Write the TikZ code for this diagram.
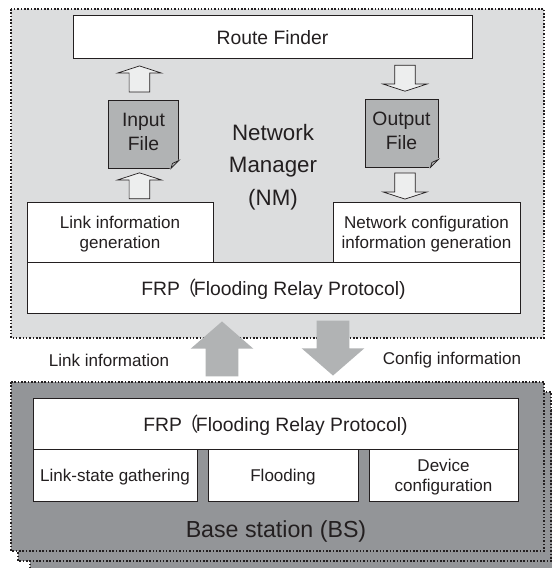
\documentclass[tikz,border=0pt]{standalone}
\usepackage{fontspec}
\usepackage{xcolor}
\usepackage{tikz}
\usetikzlibrary{calc, shapes.arrows}
\setmainfont{Liberation Sans}
\newfontfamily\cjkparen{Noto Sans CJK JP}
\definecolor{nmgrey}{HTML}{DCDDDE}
\definecolor{bsgrey}{HTML}{939598}
\definecolor{filegrey}{HTML}{B1B3B4}
\definecolor{biggrey}{HTML}{B1B3B4}
\definecolor{smallgrey}{HTML}{EDEEEE}
\definecolor{inkgrey}{HTML}{231F20}
\newcommand{\frpname}{FRP\hspace{-0.14em}{\cjkparen （}\hspace{-0.14em}Flooding Relay Protocol)}
\tikzset{
    every node/.style={text=inkgrey, align=center, inner sep=0pt},
    areabox/.style={draw=inkgrey, densely dotted, line width=0.9pt},
    whitebox/.style={rectangle, draw=inkgrey, fill=white, line width=0.5pt, text depth=0pt, font=\fontsize{9.7}{11.4}\selectfont},
    framebox/.style={whitebox, font=\fontsize{11}{13}\selectfont},
    filebox/.style={rectangle, draw=inkgrey, fill=filegrey, line width=0.5pt, text depth=2.3pt, minimum width=1.4cm, minimum height=1.36cm, font=\fontsize{11}{13.7}\selectfont},
    smallarrow/.style={single arrow, draw=inkgrey, fill=smallgrey, line width=0.4pt, inner sep=0.2cm, minimum width=0.86cm, minimum height=0.52cm, single arrow tip angle=144, single arrow head extend=0.23cm},
    bigarrow/.style={single arrow, fill=biggrey, inner sep=0.32cm, minimum width=1.24cm, minimum height=1.1cm, single arrow tip angle=98, single arrow head extend=0.3cm},
}
\newcommand{\filefold}[1]{
    \draw [draw=nmgrey, fill=nmgrey, line width=0.8pt] (#1.south east) -- ($(#1.south east) + (-0.16,0)$) -- ($(#1.south east) + (0,0.16)$) -- cycle;
    \draw [draw=inkgrey, fill=filegrey, line width=0.4pt] ($(#1.south east) + (-0.16,0)$) -- ($(#1.south east) + (0,0.16)$) -- ($(#1.south east) + (-0.13,0.1)$) -- cycle;
}
\begin{document}
\begin{tikzpicture}
        \useasboundingbox (0,0) rectangle (11.04,-11.36);
        \clip (0,0) rectangle (11.04,-11.36);

        %% Areas
        \fill [white] (0,0) rectangle (11.04,-11.36);
        \draw [areabox, fill=bsgrey] (0.6,-8.2) rectangle (11.1,-11.6);
        \draw [areabox, fill=bsgrey] (0.36,-7.84) rectangle (11.02,-11.22);
        \draw [areabox, fill=bsgrey] (0.22,-7.64) rectangle (10.88,-11.02);
        \draw [areabox, fill=nmgrey] (0.22,-0.18) rectangle (10.88,-6.76);

        %% Network Manager
        \node (routefinder) [framebox, minimum width=7.98cm, minimum height=0.85cm] at (5.45,-0.74) {Route Finder};
        \node (linkgen) [whitebox, minimum width=3.72cm, minimum height=1.2cm] at (2.4,-4.64) {Link information\\generation};
        \node (configgen) [whitebox, minimum width=3.74cm, minimum height=1.19cm] at (8.53,-4.65) {Network configuration\\information generation};
        \node (nmfrp) [framebox, minimum width=9.86cm, minimum height=1.02cm] at (5.47,-5.75) {\frpname};
        \node (nmlabel) [font=\fontsize{12.7}{18.5}\selectfont] at (5.46,-3.34) {Network\\Manager\\(NM)};

        %% Files
        \node (inputfile) [filebox] at (2.87,-2.68) {Input\\File};
        \node (outputfile) [filebox, minimum width=1.46cm] at (8.03,-2.66) {Output\\File};
        \filefold{inputfile}
        \filefold{outputfile}

        %% Small arrows
        \node (inputup) [smallarrow, shape border rotate=90, anchor=tip] at ($(inputfile.north) + (-0.08,0.68)$) {};
        \node (linkup) [smallarrow, shape border rotate=90, anchor=tip] at ($(inputfile.south) + (-0.08,-0.08)$) {};
        \node (outputdown) [smallarrow, shape border rotate=270, anchor=tip] at ($(outputfile.north) + (0.07,0.14)$) {};
        \node (configdown) [smallarrow, shape border rotate=270, anchor=tip] at ($(outputfile.south) + (0.07,-0.64)$) {};

        %% Big arrows
        \node (linkarrow) [bigarrow, shape border rotate=90, anchor=tip] at (4.44,-6.42) {};
        \node (configarrow) [bigarrow, shape border rotate=270, anchor=tip] at (6.66,-7.52) {};
        \node (linklabel) [font=\fontsize{9.7}{12}\selectfont] at (2.18,-7.2) {Link information};
        \node (configlabel) [font=\fontsize{9.7}{12}\selectfont] at (9.04,-7.2) {Config information};

        %% Base station
        \node (bsfrp) [framebox, minimum width=9.7cm, minimum height=1.02cm] at (5.51,-8.47) {\frpname};
        \node (gathering) [whitebox, minimum width=3.28cm, minimum height=1.04cm] at (2.3,-9.5) {Link-state gathering};
        \node (flooding) [whitebox, minimum width=3cm, minimum height=1.04cm] at (5.66,-9.5) {Flooding};
        \node (deviceconf) [whitebox, minimum width=2.98cm, minimum height=1.04cm] at (8.87,-9.5) {Device\\configuration};
        \node (bslabel) [font=\fontsize{13.2}{15}\selectfont] at (5.52,-10.62) {Base station (BS)};

    \end{tikzpicture}
\end{document}
